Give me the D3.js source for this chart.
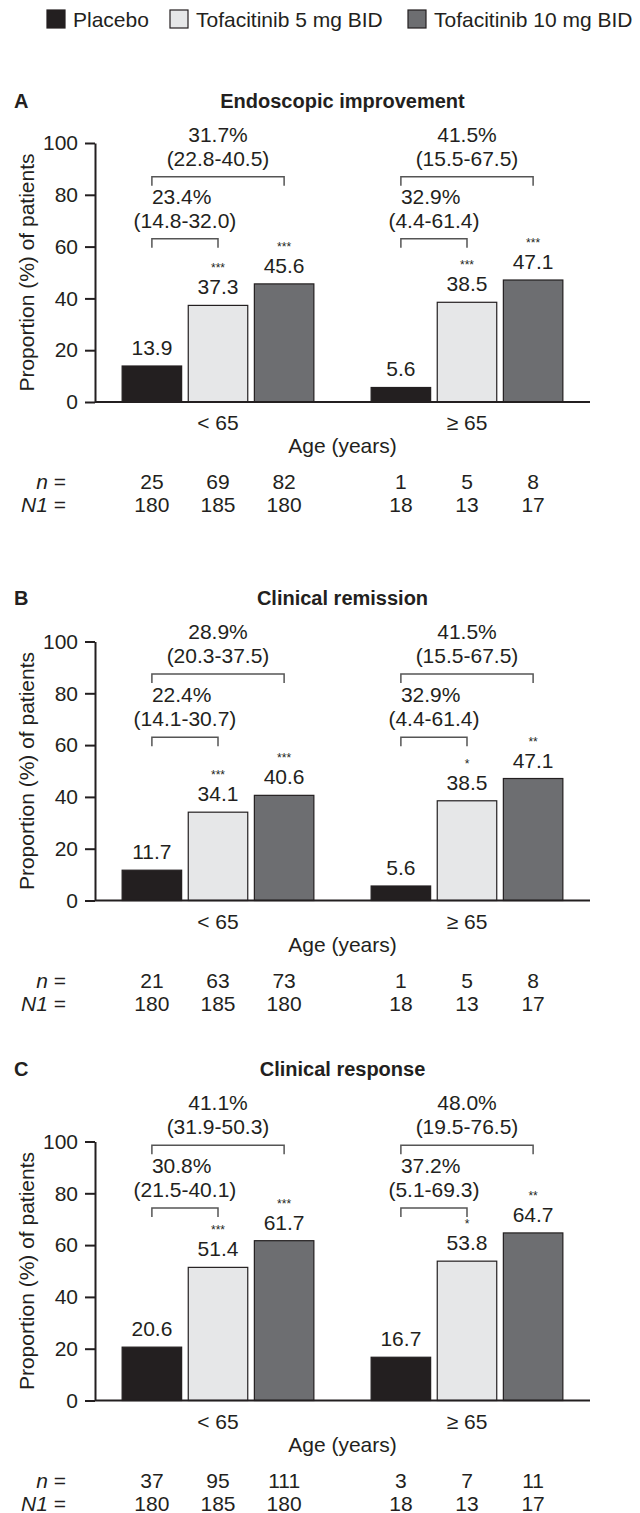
<!DOCTYPE html>
<html>
<head>
<meta charset="utf-8">
<style>
  body { margin: 0; background: #fff; }
  svg { display: block; }
  text { font-family: "Liberation Sans", Arial, sans-serif; fill: #231f20; }
  .tick text { font-size: 21px; }
</style>
</head>
<body>
<script src="https://d3js.org/d3.v7.min.js"></script>
<script>

var width = 640,
    height = 1513;

// series and groups
var series = ["Placebo", "Tofacitinib 5 mg BID", "Tofacitinib 10 mg BID"];
var groups = ["< 65", "\u2265 65"];
var colors = ["#231f20", "#e6e7e8", "#6d6e71"];
var yTicks = [0, 20, 40, 60, 80, 100];

var panelLetters = ["A", "B", "C"];
var panelTitles = ["Endoscopic improvement", "Clinical remission", "Clinical response"];

// proportions (%) per group, per series
var valuesA = [[13.9, 37.3, 45.6], [5.6, 38.5, 47.1]];
var valuesB = [[11.7, 34.1, 40.6], [5.6, 38.5, 47.1]];
var valuesC = [[20.6, 51.4, 61.7], [16.7, 53.8, 64.7]];

// significance marks
var starsA = [["", "***", "***"], ["", "***", "***"]];
var starsB = [["", "***", "***"], ["", "*", "**"]];
var starsC = [["", "***", "***"], ["", "*", "**"]];

// differences vs placebo (5 mg, 10 mg)
var diff5A = [["23.4%", "(14.8-32.0)"], ["32.9%", "(4.4-61.4)"]];
var diff10A = [["31.7%", "(22.8-40.5)"], ["41.5%", "(15.5-67.5)"]];
var diff5B = [["22.4%", "(14.1-30.7)"], ["32.9%", "(4.4-61.4)"]];
var diff10B = [["28.9%", "(20.3-37.5)"], ["41.5%", "(15.5-67.5)"]];
var diff5C = [["30.8%", "(21.5-40.1)"], ["37.2%", "(5.1-69.3)"]];
var diff10C = [["41.1%", "(31.9-50.3)"], ["48.0%", "(19.5-76.5)"]];

// bracket levels in % units (small, big)
var bracketsA = [63, 87];
var bracketsB = [63, 87.5];
var bracketsC = [74.3, 98.6];

// n and N1
var nA = [[25, 69, 82], [1, 5, 8]];
var nB = [[21, 63, 73], [1, 5, 8]];
var nC = [[37, 95, 111], [3, 7, 11]];
var N1 = [[180, 185, 180], [18, 13, 17]];

var panels = [
  {values: valuesA, stars: starsA, d5: diff5A, d10: diff10A, br: bracketsA, n: nA},
  {values: valuesB, stars: starsB, d5: diff5B, d10: diff10B, br: bracketsB, n: nB},
  {values: valuesC, stars: starsC, d5: diff5C, d10: diff10C, br: bracketsC, n: nC}
];
var panelTops = [143, 641.5, 1141.5];
var plotH = 259;

var svg = d3.select("body").append("svg")
    .attr("width", width)
    .attr("height", height);

// legend
var legend = svg.append("g").attr("class", "legend");
var legendX = [47, 170, 408];
series.forEach(function(s, i) {
  legend.append("rect")
    .attr("x", legendX[i]).attr("y", 10)
    .attr("width", 18).attr("height", 18)
    .attr("fill", colors[i])
    .attr("stroke", "#231f20").attr("stroke-width", 1.2);
  legend.append("text")
    .attr("x", legendX[i] + 26).attr("y", 27)
    .style("font-size", "21px")
    .text(s);
});

var x0 = d3.scaleBand().domain(groups).range([95, 590])
    .paddingInner(0.23).paddingOuter(0.109);
var x1 = d3.scaleBand().domain(series).range([0, x0.bandwidth()])
    .paddingInner(0.1).paddingOuter(0);

function cx(g, s) { return x0(groups[g]) + x1(series[s]) + x1.bandwidth() / 2; }

panels.forEach(function(p, pi) {
  var top = panelTops[pi];
  var y = d3.scaleLinear().domain([0, 100]).range([top + plotH, top]);
  var base = y(0);
  var g = svg.append("g").attr("class", "panel");

  // title and letter
  var titleY = y(p.br[1]) - 69;
  g.append("text")
    .attr("x", 14).attr("y", titleY)
    .style("font-size", "20px").style("font-weight", "bold")
    .text(panelLetters[pi]);
  g.append("text")
    .attr("x", 342.5).attr("y", titleY)
    .attr("text-anchor", "middle")
    .style("font-size", "20px").style("font-weight", "bold")
    .text(panelTitles[pi]);

  // y axis
  var yAxis = g.append("g")
    .attr("transform", "translate(95,0)")
    .call(d3.axisLeft(y).tickValues(yTicks).tickSize(10).tickSizeOuter(0).tickPadding(7));
  yAxis.select(".domain").attr("stroke", "#231f20").attr("stroke-width", 2);
  yAxis.selectAll(".tick line").attr("stroke", "#231f20").attr("stroke-width", 2);
  yAxis.selectAll(".tick text").attr("fill", "#231f20").attr("font-family", null).attr("font-size", null);

  g.append("text")
    .attr("transform", "translate(34," + (top + plotH / 2) + ") rotate(-90)")
    .attr("text-anchor", "middle")
    .style("font-size", "21px")
    .text("Proportion (%) of patients");

  // bars
  p.values.forEach(function(vals, gi) {
    g.selectAll(null)
      .data(vals)
      .enter().append("rect")
      .attr("x", function(d, i) { return x0(groups[gi]) + x1(series[i]); })
      .attr("y", function(d) { return y(d); })
      .attr("width", x1.bandwidth())
      .attr("height", function(d) { return base - y(d); })
      .attr("fill", function(d, i) { return colors[i]; })
      .attr("stroke", "#231f20")
      .attr("stroke-width", 1.2);

    g.selectAll(null)
      .data(vals)
      .enter().append("text")
      .attr("x", function(d, i) { return cx(gi, i); })
      .attr("y", function(d) { return y(d) - 11; })
      .attr("text-anchor", "middle")
      .style("font-size", "21px")
      .text(function(d) { return d.toFixed(1); });

    g.selectAll(null)
      .data(p.stars[gi])
      .enter().append("text")
      .attr("x", function(d, i) { return cx(gi, i); })
      .attr("y", function(d, i) { return y(vals[i]) - 33; })
      .attr("text-anchor", "middle")
      .style("font-size", "12px")
      .text(function(d) { return d; });

    // brackets
    var levels = [p.br[0], p.br[1]];
    var diffs = [p.d5[gi], p.d10[gi]];
    levels.forEach(function(lv, k) {
      var xl = cx(gi, 0), xr = cx(gi, k + 1), by = y(lv);
      g.append("path")
        .attr("d", "M" + xl + "," + (by + 9) + "V" + by + "H" + xr + "V" + (by + 9))
        .attr("fill", "none")
        .attr("stroke", "#555")
        .attr("stroke-width", 1.5);
      var mid = (xl + xr) / 2;
      g.append("text")
        .attr("x", k === 0 ? xl : mid)
        .attr("y", by - 35)
        .attr("text-anchor", k === 0 ? "start" : "middle")
        .style("font-size", "21px")
        .text(diffs[k][0]);
      g.append("text")
        .attr("x", mid)
        .attr("y", by - 11)
        .attr("text-anchor", "middle")
        .style("font-size", "21px")
        .text(diffs[k][1]);
    });

    // n / N1 values
    p.n[gi].forEach(function(v, i) {
      g.append("text")
        .attr("x", cx(gi, i)).attr("y", base + 87)
        .attr("text-anchor", "middle")
        .style("font-size", "21px")
        .text(v);
      g.append("text")
        .attr("x", cx(gi, i)).attr("y", base + 110)
        .attr("text-anchor", "middle")
        .style("font-size", "21px")
        .text(N1[gi][i]);
    });
  });

  // baseline
  g.append("line")
    .attr("x1", 95).attr("x2", 590)
    .attr("y1", base).attr("y2", base)
    .attr("stroke", "#231f20").attr("stroke-width", 2);

  // group labels
  g.selectAll(null)
    .data(groups)
    .enter().append("text")
    .attr("x", function(d) { return x0(d) + x0.bandwidth() / 2; })
    .attr("y", base + 28)
    .attr("text-anchor", "middle")
    .style("font-size", "21px")
    .text(function(d) { return d; });

  g.append("text")
    .attr("x", 342.5).attr("y", base + 51)
    .attr("text-anchor", "middle")
    .style("font-size", "21px")
    .text("Age (years)");

  var nRow = g.append("text")
    .attr("x", 66).attr("y", base + 87)
    .attr("text-anchor", "end")
    .style("font-size", "21px");
  nRow.append("tspan").style("font-style", "italic").text("n");
  nRow.append("tspan").text(" =");

  var NRow = g.append("text")
    .attr("x", 66).attr("y", base + 110)
    .attr("text-anchor", "end")
    .style("font-size", "21px");
  NRow.append("tspan").style("font-style", "italic").text("N1");
  NRow.append("tspan").text(" =");
});

</script>
</body>
</html>
